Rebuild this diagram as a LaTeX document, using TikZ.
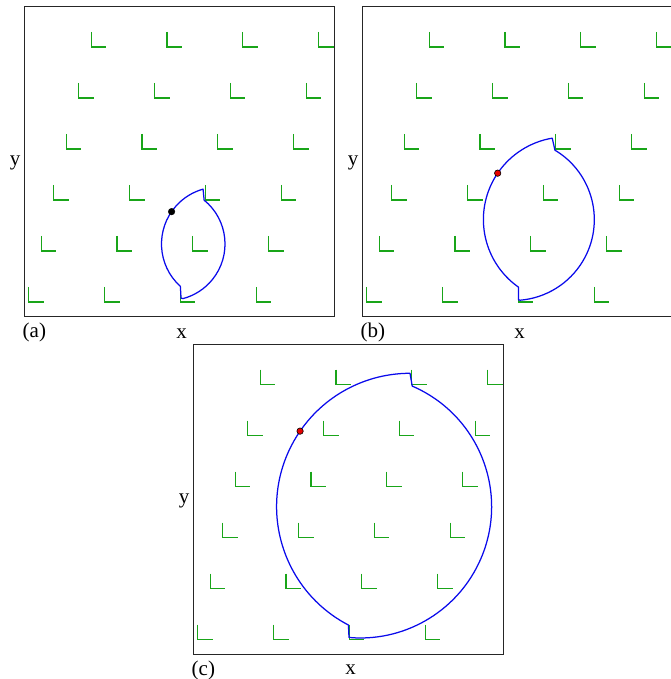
\documentclass[tikz,border=0pt]{standalone}
\usepackage{fontspec}
\setmainfont{Liberation Serif}
\usetikzlibrary{calc}
\definecolor{lgreen}{RGB}{25,165,25}
\definecolor{cblue}{RGB}{10,10,235}
\definecolor{dred}{RGB}{230,0,0}
\tikzset{
  frame/.style={draw=black!85, line width=0.9pt},
  lshape/.style={draw=lgreen, line width=1.1pt},
  curve/.style={draw=cblue, line width=1.25pt, line join=round},
  lbl/.style={inner sep=0pt, font=\fontsize{21}{25}\selectfont},
  dotblack/.style={circle, fill=black, draw=black, inner sep=0pt, minimum size=6.6pt},
  dotred/.style={circle, fill=dred, draw=black, line width=0.6pt, inner sep=0pt, minimum size=6.4pt}
}
\newcommand{\lgrid}{%
  \foreach \r in {0,...,5}{\foreach \c in {0,...,3}{%
    \draw[lshape] ({4.4+12.5*\r+75.8*\c},{29.7+51*\r}) -- ++(0,-15) -- ++(15,0);}}}
\begin{document}
\begin{tikzpicture}[x=1pt,y=1pt]
\useasboundingbox (0,0) rectangle (670,679);
% ---------- panel (a)
\begin{scope}[shift={(24.3,362.3)}]
  \draw[frame] (0,0) rectangle (310.4,310);
  \lgrid
  \coordinate (aL) at (194.2,72.7);
  \coordinate (aR) at (144.2,72.7);
  \draw[curve] ($(aL)+(228:57pt)$) arc[start angle=228, end angle=105.7, radius=57pt]
     -- ($(aR)+(50.9:56.5pt)$) arc[start angle=50.9, end angle=-75.3, radius=56.5pt]
     -- ++(-1.8,0.6) -- cycle;
  \node[dotblack] (adot) at ($(aL)+(145.4:57pt)$) {};
  \node[lbl, anchor=west] (alab) at (-1.8,-15.3) {(a)};
  \node[lbl] (ax) at (157.4,-16.6) {x};
  \node[lbl] (ay) at (-9.3,153.7) {y};
\end{scope}
% ---------- panel (b)
\begin{scope}[shift={(362.3,362.3)}]
  \draw[frame] (0,0) rectangle (310.4,310);
  \lgrid
  \coordinate (bL) at (203.7,97.1);
  \coordinate (bR) at (151.1,97.1);
  \draw[curve] ($(bL)+(234.8:82.6pt)$) arc[start angle=234.8, end angle=99.6, radius=82.6pt]
     -- ($(bR)+(59.1:80.9pt)$) arc[start angle=59.1, end angle=-85.3, radius=80.9pt]
     -- ++(-1.5,0.4) -- cycle;
  \node[dotred] (bdot) at ($(bL)+(145.8:82.6pt)$) {};
  \node[lbl, anchor=west] (blab) at (-1.8,-15.3) {(b)};
  \node[lbl] (bx) at (157.4,-16.6) {x};
  \node[lbl] (by) at (-9.3,153.7) {y};
\end{scope}
% ---------- panel (c)
\begin{scope}[shift={(193.3,24.7)}]
  \draw[frame] (0,0) rectangle (310.4,310);
  \lgrid
  \coordinate (cL) at (216.7,147.6);
  \coordinate (cR) at (167,147.6);
  \draw[curve] ($(cL)+(242.5:133.4pt)$) arc[start angle=242.5, end angle=90, radius=133.4pt]
     -- ($(cR)+(66.7:131.3pt)$) arc[start angle=66.7, end angle=-93.1, radius=131.3pt]
     -- ++(-4.2,0.4) -- cycle;
  \node[dotred] (cdot) at ($(cL)+(145.5:133.4pt)$) {};
  \node[lbl, anchor=west] (clab) at (-1.8,-15.7) {(c)};
  \node[lbl] (cx) at (157.4,-15.5) {x};
  \node[lbl] (cy) at (-9.3,153.7) {y};
\end{scope}
\end{tikzpicture}
\end{document}
